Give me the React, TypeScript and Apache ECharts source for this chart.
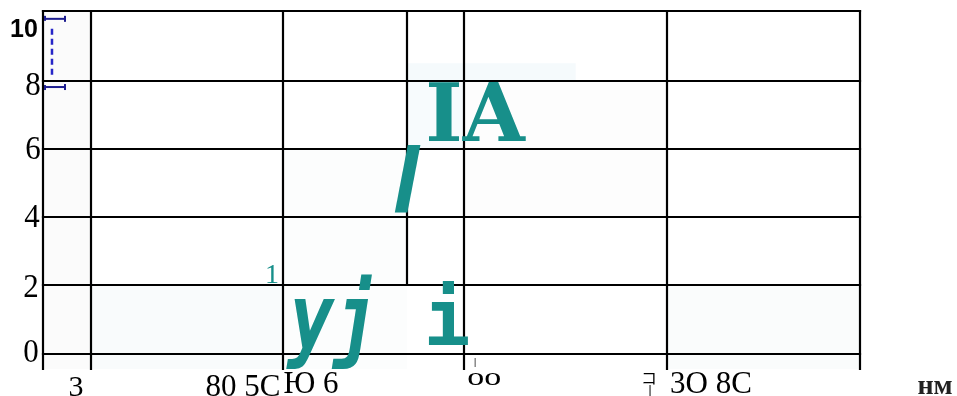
import React, { useEffect, useRef } from "react";
import * as echarts from "echarts";

// ---- axis extents (data units) ----
const X_MIN = 0;
const X_MAX = 100;
const Y_MIN = -0.45;
const Y_MAX = 10.05;

// ---- grid lines ----
const hGridValues = [0, 2, 4, 6, 8, Y_MAX];
const vGridValues = [0, 5.88, 29.38, 51.53, 76.38, 100];
const partialVLineX = [44.55];
const partialVLineFrom = [2];

// ---- faint background blocks: [x0, x1, y0, y1] ----
const blockX0 = [0, 5.88, 29.38, 44.55, 44.55, 51.53, 76.38];
const blockX1 = [5.88, 29.38, 44.55, 65.2, 51.53, 76.38, 100];
const blockY0 = [Y_MIN, Y_MIN, Y_MIN, 8, 6, 4, Y_MIN];
const blockY1 = [Y_MAX, 2, 6, 8.52, 8, 8, 2];
const blockColors = ["#fbfbfb", "#f9fbfc", "#fcfdfd", "#f5fafc", "#f7fbfd", "#fdfdfd", "#fafcfc"];

// ---- error bar ----
const errX = [1.1];
const errLow = [7.82];
const errHigh = [9.82];

// ---- y tick labels ----
const yTickLabels = ["10", "8", "6", "4", "2", "0"];
const yTickX = [-2.33, -1.22, -1.22, -1.35, -1.47, -1.47];
const yTickY = [9.55, 7.91, 6.06, 4.04, 1.99, 0.08];

// ---- x tick labels ----
const xTickLabels = ["3", "80 5C", "Ю 6", "|", "oo", "コ", "|", "3O 8C", "нм"];
const xTickX = [4.04, 24.48, 32.8, 52.88, 54.0, 74.17, 74.3, 81.76, 109.18];
const xTickY = [-0.92, -0.92, -0.86, -0.24, -0.68, -0.68, -1.07, -0.86, -0.9];

// ---- annotation texts ----
const noteTexts = ["IA", "l", "yj", "i", "1"];
const noteX = [52.88, 44.43, 35.62, 49.45, 28.03];
const noteY = [7.05, 5.09, 1.04, 1.04, 2.36];

type TS = { family: string; size: number; weight?: string; style?: string; color: string; sx?: number; sy?: number };

const SERIF = "'Liberation Serif', 'Times New Roman', serif";
const yTickStyles: TS[] = [
  { family: "'Liberation Sans', Arial, sans-serif", size: 25, weight: "bold", color: "#000" },
  { family: SERIF, size: 31, color: "#000", sy: 1.1 },
  { family: SERIF, size: 31, color: "#000", sy: 1.1 },
  { family: SERIF, size: 31, color: "#000", sy: 1.1 },
  { family: SERIF, size: 31, color: "#000", sy: 1.1 },
  { family: SERIF, size: 31, color: "#000", sy: 1.1 },
];
const xTickStyles: TS[] = [
  { family: SERIF, size: 30, color: "#000" },
  { family: SERIF, size: 31, color: "#000" },
  { family: SERIF, size: 31, color: "#000" },
  { family: SERIF, size: 10, weight: "bold", color: "#000" },
  { family: SERIF, size: 34, color: "#000", sy: 0.75 },
  { family: "'Noto Sans CJK JP', sans-serif", size: 16, color: "#000" },
  { family: SERIF, size: 14, weight: "bold", color: "#000" },
  { family: SERIF, size: 31, color: "#000" },
  { family: SERIF, size: 28, weight: "bold", color: "#222" },
];
const TEAL = "#178f8a";
const noteStyles: TS[] = [
  { family: "'DejaVu Serif', serif", size: 80, weight: "bold", color: TEAL },
  { family: "'Liberation Sans', Arial, sans-serif", size: 92, weight: "bold", style: "italic", color: TEAL },
  { family: "'DejaVu Sans Mono', monospace", size: 74, weight: "bold", style: "italic", color: TEAL, sy: 1.25 },
  { family: "'DejaVu Sans Mono', monospace", size: 78, weight: "bold", color: TEAL },
  { family: SERIF, size: 28, color: TEAL },
];

export default function App() {
  const ref = useRef<HTMLDivElement>(null);
  useEffect(() => {
    if (!ref.current) return;
    const chart = echarts.init(ref.current, null, { renderer: "svg" });

    const allTexts = [...yTickLabels, ...xTickLabels, ...noteTexts];
    const allX = [...yTickX, ...xTickX, ...noteX];
    const allY = [...yTickY, ...xTickY, ...noteY];
    const allStyles = [...yTickStyles, ...xTickStyles, ...noteStyles];
    const textData = allTexts.map((_, i) => [allX[i], allY[i]]);

    const lineData: number[][] = [];
    hGridValues.forEach((v) => lineData.push([X_MIN, v, X_MAX, v]));
    vGridValues.forEach((v) => lineData.push([v, Y_MIN, v, Y_MAX]));
    partialVLineX.forEach((v, i) => lineData.push([v, partialVLineFrom[i], v, Y_MAX]));

    const blockData = blockX0.map((_, i) => [blockX0[i], blockX1[i], blockY0[i], blockY1[i]]);
    const errData = errX.map((_, i) => [errX[i], errLow[i], errHigh[i]]);

    chart.setOption({
      animation: false,
      grid: { left: 43, right: 97, top: 11, bottom: 27 },
      xAxis: { type: "value", min: X_MIN, max: X_MAX, show: false },
      yAxis: { type: "value", min: Y_MIN, max: Y_MAX, show: false },
      series: [
        {
          type: "custom",
          name: "blocks",
          data: blockData,
          encode: { x: [0, 1], y: [2, 3] },
          renderItem: (params: any, api: any) => {
            const a = api.coord([api.value(0), api.value(3)]);
            const b = api.coord([api.value(1), api.value(2)]);
            return {
              type: "rect",
              shape: { x: a[0], y: a[1], width: b[0] - a[0], height: b[1] - a[1] },
              style: { fill: blockColors[params.dataIndex] },
            };
          },
          silent: true,
          z: 1,
        },
        {
          type: "custom",
          name: "grid",
          data: lineData,
          encode: { x: [0, 2], y: [1, 3] },
          renderItem: (_params: any, api: any) => {
            const a = api.coord([api.value(0), api.value(1)]);
            const b = api.coord([api.value(2), api.value(3)]);
            return {
              type: "line",
              shape: { x1: Math.round(a[0]), y1: Math.round(a[1]), x2: Math.round(b[0]), y2: Math.round(b[1]) },
              style: { stroke: "#000", lineWidth: 2.2, lineCap: "square" },
            };
          },
          silent: true,
          z: 2,
        },
        {
          type: "custom",
          name: "errorbar",
          data: errData,
          encode: { x: 0, y: [1, 2] },
          renderItem: (_params: any, api: any) => {
            const lo = api.coord([api.value(0), api.value(1)]);
            const hi = api.coord([api.value(0), api.value(2)]);
            const x = lo[0];
            const capL = x - 7;
            const capR = x + 13;
            const capStyle = { stroke: "#1c1c90", lineWidth: 2 };
            return {
              type: "group",
              children: [
                { type: "line", shape: { x1: x, y1: hi[1] + 10, x2: x, y2: lo[1] - 10 }, style: { stroke: "#2626c8", lineWidth: 2.5, lineDash: [6, 4] } },
                { type: "line", shape: { x1: capL, y1: hi[1], x2: capR, y2: hi[1] }, style: capStyle },
                { type: "line", shape: { x1: capR, y1: hi[1] - 3, x2: capR, y2: hi[1] + 3 }, style: capStyle },
                { type: "line", shape: { x1: capL, y1: hi[1] - 3, x2: capL, y2: hi[1] + 2 }, style: capStyle },
                { type: "line", shape: { x1: capL, y1: lo[1], x2: capR, y2: lo[1] }, style: capStyle },
                { type: "line", shape: { x1: capR, y1: lo[1] - 3, x2: capR, y2: lo[1] + 3 }, style: capStyle },
                { type: "line", shape: { x1: capL, y1: lo[1] - 2, x2: capL, y2: lo[1] + 3 }, style: capStyle },
              ],
            };
          },
          silent: true,
          z: 3,
        },
        {
          type: "custom",
          name: "texts",
          data: textData,
          encode: { x: 0, y: 1 },
          clip: false,
          renderItem: (params: any, api: any) => {
            const p = api.coord([api.value(0), api.value(1)]);
            const i = params.dataIndex;
            const s = allStyles[i];
            return {
              type: "text",
              x: p[0],
              y: p[1],
              scaleX: s.sx ?? 1,
              scaleY: s.sy ?? 1,
              style: {
                text: allTexts[i],
                fill: s.color,
                fontFamily: s.family,
                fontSize: s.size,
                fontWeight: s.weight ?? "normal",
                fontStyle: s.style ?? "normal",
                align: "center",
                verticalAlign: "middle",
              },
            };
          },
          silent: true,
          z: 4,
        },
      ],
    });
    return () => chart.dispose();
  }, []);
  return <div ref={ref} style={{ position: "fixed", left: 0, top: 0, width: 957, height: 396 }} />;
}
